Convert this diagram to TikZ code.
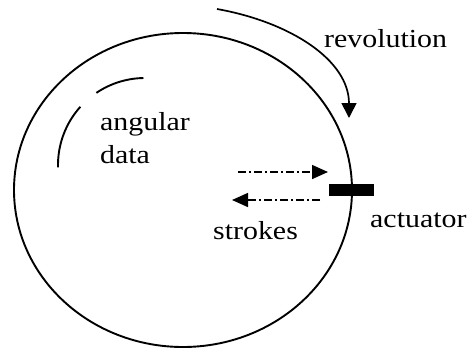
\documentclass[tikz,border=0pt]{standalone}
\usepackage{fontspec}
\setmainfont{Liberation Serif}[FakeStretch=1.15]
\usetikzlibrary{arrows.meta}
\begin{document}
\begin{tikzpicture}[x=1pt,y=-1pt,
  label/.style={anchor=base west,inner sep=0pt,font=\fontsize{26}{30}\selectfont},
  outline/.style={line width=1.9pt},
  motion/.style={line width=1.7pt,-{Triangle[length=15pt,width=15pt]}},
  stroke/.style={line width=1.5pt,dash pattern=on 8pt off 3pt on 2pt off 3pt,
                 -{Triangle[length=16pt,width=14pt,sep=0pt]}}]
  \useasboundingbox (0,0) rectangle (467,349);

  % disc
  \draw[outline] (183,190) ellipse [x radius=169, y radius=157];

  % angular data track (two arc pieces)
  \draw[outline] (145,165) ++(178.5:87) arc[start angle=178.5, end angle=222, radius=87];
  \draw[outline] (145,165) ++(236:87) arc[start angle=236, end angle=269, radius=87];

  % revolution arrow
  \coordinate (revstart) at (217,9);
  \coordinate (revend) at (349,118);
  \draw[motion] (revstart) .. controls (290,22) and (349,60) .. (revend);

  % actuator head
  \node[fill=black,inner sep=0pt,minimum width=45pt,minimum height=12pt] (head) at (351.5,190) {};

  % strokes
  \coordinate (inA) at (238,172);
  \coordinate (inB) at (328,172);
  \coordinate (outA) at (320,200);
  \coordinate (outB) at (232,200);
  \draw[stroke] (inA) -- (inB);
  \draw[stroke] (outA) -- (outB);

  % labels
  \node[label] (rev) at (324,47) {revolution};
  \node[label] (ang) at (100,130) {angular};
  \node[label] (dat) at (100,163) {data};
  \node[label] (stk) at (213,239) {strokes};
  \node[label] (act) at (370,227) {actuator};
\end{tikzpicture}
\end{document}
